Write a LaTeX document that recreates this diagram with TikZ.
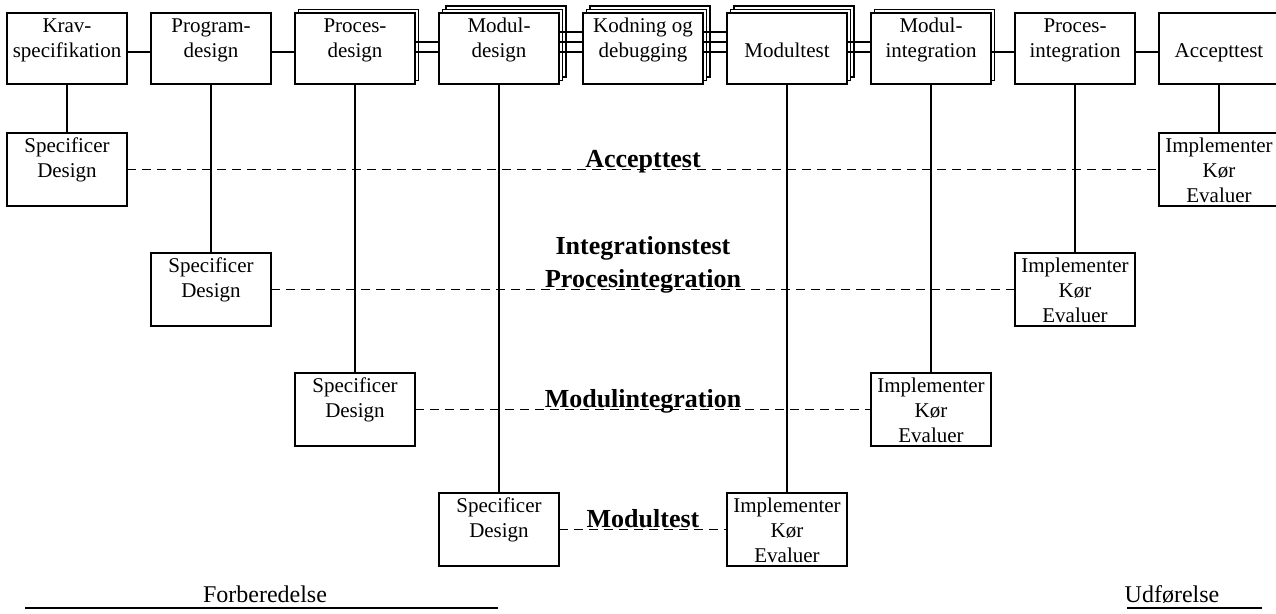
\documentclass[tikz,border=0pt]{standalone}
\usepackage{fontspec}
\setmainfont{Liberation Serif}
\usetikzlibrary{positioning,shadows}

\newcommand{\boxtxt}[2]{\parbox[c][#1][t]{60pt}{\centering\rule{0pt}{10pt}#2}}

\begin{document}
\begin{tikzpicture}[line width=0.85pt]
        \tikzstyle{topbox}=[draw, fill=white, inner sep=0pt, outer sep=0pt, minimum width=60pt, minimum height=35.5pt, font=\fontsize{10.5}{12.5}\selectfont]
        \tikzstyle{lowbox}=[topbox, minimum height=36.5pt]
        \tikzstyle{twice}=[copy shadow={shadow xshift=1.75pt, shadow yshift=1.75pt, fill=white, draw=black}]
        \tikzstyle{thrice}=[copy shadow={shadow xshift=3.5pt, shadow yshift=3.5pt, fill=white, draw=black}, twice]
        \tikzstyle{phase}=[font=\fontsize{13}{16.5}\selectfont\bfseries, align=center, anchor=base, yshift=1pt, inner sep=0pt]
        \tikzstyle{testline}=[dash pattern=on 4.5pt off 3pt]

        \useasboundingbox (0,0) rectangle (638pt,-307pt);

        \node (krav)      [topbox] at (33.5pt,-24.25pt) {\boxtxt{35.5pt}{Krav-\\specifikation}};
        \node (program)   [topbox, right=12pt of krav] {\boxtxt{35.5pt}{Program-\\design}};
        \node (proces)    [topbox, twice, right=12pt of program] {\boxtxt{35.5pt}{Proces-\\design}};
        \node (modul)     [topbox, thrice, right=12pt of proces] {\boxtxt{35.5pt}{Modul-\\design}};
        \node (kodning)   [topbox, thrice, right=12pt of modul] {\boxtxt{35.5pt}{Kodning og\\debugging}};
        \node (modultest) [topbox, thrice, right=12pt of kodning] {\boxtxt{35.5pt}{\\Modultest}};
        \node (modulint)  [topbox, twice, right=12pt of modultest] {\boxtxt{35.5pt}{Modul-\\integration}};
        \node (procesint) [topbox, right=12pt of modulint] {\boxtxt{35.5pt}{Proces-\\integration}};
        \node (accept)    [topbox, right=12pt of procesint] {\boxtxt{35.5pt}{\\Accepttest}};

        \draw ([yshift=-1.75pt]krav.east) -- ([yshift=-1.75pt]program.west);
        \draw ([yshift=-1.75pt]program.east) -- ([yshift=-1.75pt]proces.west);
        \foreach \s in {-1.75pt,3.25pt}
            \draw ([yshift=\s]proces.east) -- ([yshift=\s]modul.west);
        \foreach \s in {-1.75pt,3.25pt,8.25pt} {
            \draw ([yshift=\s]modul.east) -- ([yshift=\s]kodning.west);
            \draw ([yshift=\s]kodning.east) -- ([yshift=\s]modultest.west);
        }
        \foreach \s in {-1.75pt,3.25pt}
            \draw ([yshift=\s]modultest.east) -- ([yshift=\s]modulint.west);
        \draw ([yshift=-1.75pt]modulint.east) -- ([yshift=-1.75pt]procesint.west);
        \draw ([yshift=-1.75pt]procesint.east) -- ([yshift=-1.75pt]accept.west);

        \node (spec1) [lowbox, below=24.5pt of krav]    {\boxtxt{36.5pt}{Specificer\\Design}};
        \node (spec2) [lowbox, below=84.5pt of program] {\boxtxt{36.5pt}{Specificer\\Design}};
        \node (spec3) [lowbox, below=144.5pt of proces] {\boxtxt{36.5pt}{Specificer\\Design}};
        \node (spec4) [lowbox, below=204.5pt of modul]  {\boxtxt{36.5pt}{Specificer\\Design}};
        \node (impl4) [lowbox, below=204.5pt of modultest] {\boxtxt{36.5pt}{Implementer\\Kør\\Evaluer}};
        \node (impl3) [lowbox, below=144.5pt of modulint]  {\boxtxt{36.5pt}{Implementer\\Kør\\Evaluer}};
        \node (impl2) [lowbox, below=84.5pt of procesint]  {\boxtxt{36.5pt}{Implementer\\Kør\\Evaluer}};
        \node (impl1) [lowbox, below=24.5pt of accept]     {\boxtxt{36.5pt}{Implementer\\Kør\\Evaluer}};

        \draw (krav) -- (spec1);
        \draw (program) -- (spec2);
        \draw (proces) -- (spec3);
        \draw (modul) -- (spec4);
        \draw (modultest) -- (impl4);
        \draw (modulint) -- (impl3);
        \draw (procesint) -- (impl2);
        \draw (accept) -- (impl1);

        \draw[testline] (spec1) -- node[phase] (accepttest) {Accepttest} (impl1);
        \draw[testline] (spec2) -- node[phase] (integration) {Integrationstest\\Procesintegration} (impl2);
        \draw[testline] (spec3) -- node[phase] (modulintegration) {Modulintegration} (impl3);
        \draw[testline] (spec4) -- node[phase] (modultesten) {Modultest} (impl4);

        \node (forb) [anchor=base, font=\fontsize{12}{14}\selectfont] at (132.5pt,-301.5pt) {Forberedelse};
        \node (udf)  [anchor=base, font=\fontsize{12}{14}\selectfont] at (586pt,-301.5pt) {Udførelse};
        \draw (12.5pt,-304pt) -- (249pt,-304pt);
        \draw (563.5pt,-304pt) -- (631pt,-304pt);
    \end{tikzpicture}
\end{document}
